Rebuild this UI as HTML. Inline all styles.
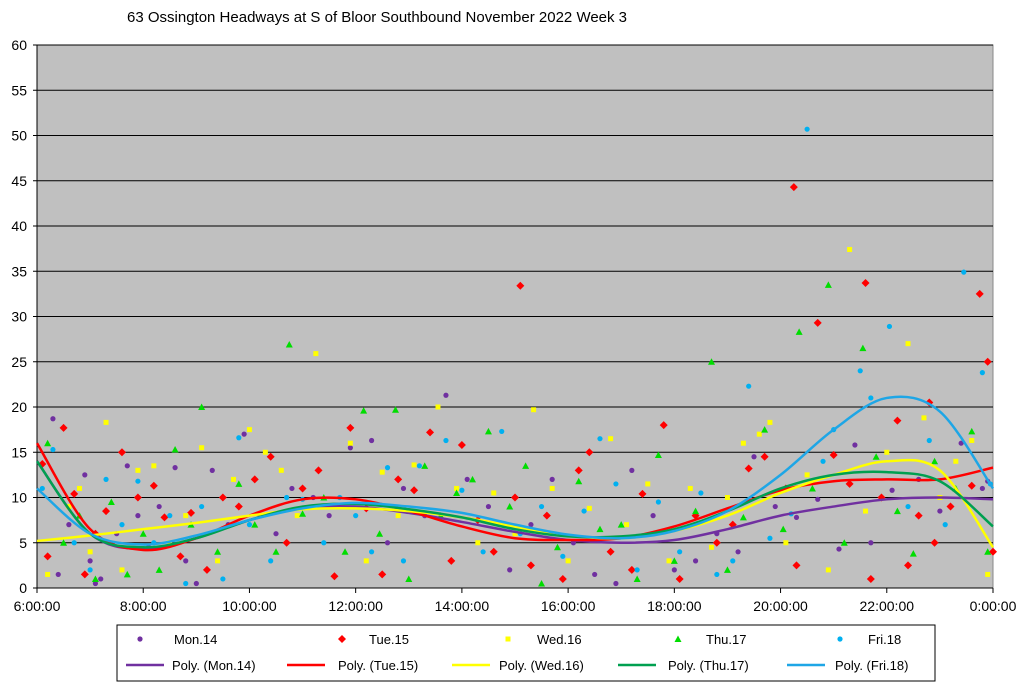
<!DOCTYPE html>
<html><head><meta charset="utf-8"><style>
body{margin:0;background:#fff;font-family:"Liberation Sans",sans-serif;}
svg text{font-family:"Liberation Sans",sans-serif;}
</style></head><body>
<svg id="chart" width="1024" height="688" xmlns="http://www.w3.org/2000/svg">
<rect width="1024" height="688" fill="#fff"/>
<text x="127" y="22" font-size="15">63 Ossington Headways at S of Bloor Southbound November 2022  Week 3</text>
<g id="plot"></g>
<g id="legend"></g>
</svg>
<script>
const yTicks=[0,5,10,15,20,25,30,35,40,45,50,55,60];
const xTickLabels=["6:00:00","8:00:00","10:00:00","12:00:00","14:00:00","16:00:00","18:00:00","20:00:00","22:00:00","0:00:00"];
const xTickHours=[6,8,10,12,14,16,18,20,22,24];
const seriesNames=["Mon.14","Tue.15","Wed.16","Thu.17","Fri.18"];
const monT=[6.3,6.4,6.6,6.9,7.0,7.1,7.2,7.5,7.7,7.9,8.1,8.3,8.6,8.8,9.0,9.3,9.6,9.9,10.2,10.5,10.8,11.2,11.5,11.9,12.3,12.6,12.9,13.3,13.7,14.1,14.5,14.9,15.3,15.7,16.1,16.5,16.9,17.2,17.6,18.0,18.4,18.8,19.2,19.5,19.9,20.3,20.7,21.1,21.4,21.7,22.1,22.6,23.0,23.4,23.8,23.9];
const monV=[18.7,1.5,7,12.5,3,0.5,1,6,13.5,8,4.5,9,13.3,3,0.5,13,7,17,8,6,11,10,8,15.5,16.3,5,11,8,21.3,12,9,2,7,12,5,1.5,0.5,13,8,2,3,6,4,14.5,9,7.8,9.8,4.3,15.8,5,10.8,12,8.5,16,11,11.8];
const tueT=[6.1,6.2,6.5,6.7,6.9,7.1,7.3,7.6,7.9,8.2,8.4,8.7,8.9,9.2,9.5,9.8,10.1,10.4,10.7,11.0,11.3,11.6,11.9,12.2,12.5,12.8,13.1,13.4,13.8,14.0,14.3,14.6,15.0,15.1,15.3,15.6,15.9,16.2,16.4,16.8,17.2,17.4,17.8,18.1,18.4,18.8,19.1,19.4,19.7,20.1,20.25,20.3,20.7,21.0,21.3,21.6,21.7,21.9,22.2,22.4,22.6,22.8,22.9,23.2,23.6,23.75,23.9,24.0];
const tueV=[13.7,3.5,17.7,10.4,1.5,6,8.5,15,10,11.3,7.8,3.5,8.3,2,10,9,12,14.5,5,11,13,1.3,17.7,8.8,1.5,12,10.8,17.2,3,15.8,7.5,4,10,33.4,2.5,8,1,13,15,4,2,10.4,18,1,8,5,7,13.2,14.5,11,44.3,2.5,29.3,14.7,11.5,33.7,1,10,18.5,2.5,8,20.5,5,9,11.3,32.5,25,4];
const wedT=[6.2,6.6,6.8,7.0,7.3,7.6,7.9,8.2,8.5,8.8,9.1,9.4,9.7,10.0,10.3,10.6,10.9,11.25,11.6,11.9,12.2,12.5,12.8,13.1,13.55,13.9,14.3,14.6,15.0,15.35,15.7,16.0,16.4,16.8,17.1,17.5,17.9,18.3,18.7,19.0,19.3,19.6,19.8,20.1,20.5,20.9,21.3,21.6,22.0,22.4,22.7,23.0,23.3,23.6,23.9];
const wedV=[1.5,9,11,4,18.3,2,13,13.5,5,8,15.5,3,12,17.5,15,13,8,25.9,9,16,3,12.8,8,13.6,20,11,5,10.5,6,19.7,11,3,8.8,16.5,7,11.5,3,11,4.5,10,16,17,18.3,5,12.5,2,37.4,8.5,15,27,18.8,10,14,16.3,1.5];
const thuT=[6.2,6.5,6.8,7.1,7.4,7.7,8.0,8.3,8.6,8.9,9.1,9.4,9.8,10.1,10.5,10.75,11.0,11.4,11.8,12.15,12.45,12.75,13.0,13.3,13.6,13.9,14.2,14.5,14.9,15.2,15.5,15.8,16.2,16.6,17.0,17.3,17.7,18.0,18.4,18.7,19.0,19.3,19.7,20.05,20.35,20.6,20.9,21.2,21.55,21.8,22.2,22.5,22.9,23.3,23.6,23.9];
const thuV=[16,5,8,1,9.5,1.5,6,2,15.3,7,20,4,11.5,7,4,26.9,8.2,10,4,19.6,6,19.7,1,13.5,8,10.5,12,17.3,9,13.5,0.5,4.5,11.8,6.5,7,1,14.7,3,8.5,25,2,7.8,17.5,6.5,28.3,11,33.5,5,26.5,14.5,8.5,3.8,14,11,17.3,4];
const friT=[6.1,6.3,6.7,7.0,7.3,7.6,7.9,8.2,8.5,8.8,9.1,9.5,9.8,10.0,10.4,10.7,11.0,11.4,11.7,12.0,12.3,12.6,12.9,13.2,13.7,14.0,14.4,14.75,15.1,15.5,15.9,16.3,16.6,16.9,17.3,17.7,18.1,18.5,18.8,19.1,19.4,19.8,20.2,20.5,20.8,21.0,21.5,21.7,22.05,22.4,22.8,23.1,23.45,23.8,23.95];
const friV=[11,15.3,5,2,12,7,11.8,5,8,0.5,9,1,16.6,7,3,10,9.8,5,10,8,4,13.3,3,13.5,16.3,10.8,4,17.3,6,9,3.5,8.5,16.5,11.5,2,9.5,4,10.5,1.5,3,22.3,5.5,8.2,50.7,14,17.5,24,21,28.9,9,16.3,7,34.9,23.8,11.5];
const trendHours=[6,7,8,9,10,11,12,13,14,15,16,17,18,19,20,21,22,23,24];
const monTrend=[14,6,4.3,5.5,7.5,8.8,9,8.3,7.3,6.2,5.3,5,5.3,6.5,8,9,9.8,10,9.8];
const tueTrend=[16,6.5,4.2,5.5,8,9.8,9.8,8.5,6.8,5.5,5.3,5.5,6.8,8.8,10.8,11.8,12,12,13.3];
const wedTrend=[5.2,5.8,6.5,7.2,8,8.7,8.8,8.5,7.8,6.8,5.8,5.5,6.3,8,10.5,12.5,14,13,4.5];
const thuTrend=[14,6,4.5,5.5,7.5,9,9.3,8.7,7.8,6.5,5.7,5.7,6.5,8.5,11,12.5,12.8,11.8,6.8];
const friTrend=[11,6,4.8,5.8,7.5,8.8,9.4,9,8.3,7,5.9,5.5,6.3,8.5,12.5,17.5,21,19.5,11];

const NS="http://www.w3.org/2000/svg";
const X0=37,X1=993,Y0=588,Y1=45;
const xs=h=>X0+(h-6)*(X1-X0)/18;
const ys=v=>Y0-v*(Y0-Y1)/60;
const plot=document.getElementById('plot');
function mk(tag,attrs,parent){const e=document.createElementNS(NS,tag);for(const k in attrs)e.setAttribute(k,attrs[k]);parent.appendChild(e);return e;}
const bg=mk('rect',{x:X0,y:Y1,width:X1-X0,height:Y0-Y1,fill:'#c0c0c0',stroke:'#888'},plot);


yTicks.forEach(v=>{
  const l=mk('line',{x1:X0-4,x2:X1,y1:ys(v),y2:ys(v),stroke:'#000','stroke-width':1},plot);
  
  
  const t=mk('text',{x:27,y:ys(v)+5,'font-size':14,'text-anchor':'end'},plot);
  t.textContent=v;
  
  
});
mk('line',{x1:X0,x2:X0,y1:Y1,y2:Y0,stroke:'#000'},plot);
xTickHours.forEach((h,i)=>{
  mk('line',{x1:xs(h),x2:xs(h),y1:Y0,y2:Y0+5,stroke:'#000'},plot);
  const t=mk('text',{x:xs(h),y:611,'font-size':14,'text-anchor':'middle'},plot);
  t.textContent=xTickLabels[i];
  
  
});
const markColors=['#7030a0','#ff0000','#ffff00','#00dd00','#00b0f0'];
const lineColors=['#7030a0','#ff0000','#ffff00','#00a050','#1ea6e6'];
const shapes=['circle','diamond','square','triangle','circle'];
function marker(shape,cx,cy,col,parent){
  if(shape==='circle')return mk('circle',{cx,cy,r:2.6,fill:col},parent);
  if(shape==='square')return mk('rect',{x:cx-2.5,y:cy-2.5,width:5,height:5,fill:col},parent);
  if(shape==='diamond')return mk('path',{d:`M${cx},${cy-4}L${cx+4},${cy}L${cx},${cy+4}L${cx-4},${cy}Z`,fill:col},parent);
  return mk('path',{d:`M${cx},${cy-3.5}L${cx+3.5},${cy+3}L${cx-3.5},${cy+3}Z`,fill:col},parent);
}
const scatT=[monT,tueT,wedT,thuT,friT],scatV=[monV,tueV,wedV,thuV,friV];
const trends=[monTrend,tueTrend,wedTrend,thuTrend,friTrend];
scatT.forEach((T,s)=>{
  T.forEach((h,i)=>{
    const m=marker(shapes[s],xs(h),ys(scatV[s][i]),markColors[s],plot);
    
    
  });
});
function smooth(pts){
  let d=`M${pts[0][0]},${pts[0][1]}`;
  for(let i=0;i<pts.length-1;i++){
    const p0=pts[i-1]||pts[i],p1=pts[i],p2=pts[i+1],p3=pts[i+2]||p2;
    const c1=[p1[0]+(p2[0]-p0[0])/6,p1[1]+(p2[1]-p0[1])/6];
    const c2=[p2[0]-(p3[0]-p1[0])/6,p2[1]-(p3[1]-p1[1])/6];
    d+=`C${c1[0]},${c1[1]} ${c2[0]},${c2[1]} ${p2[0]},${p2[1]}`;
  }
  return d;
}
trends.forEach((tr,s)=>{
  const pts=trendHours.map((h,i)=>[xs(h),ys(tr[i])]);
  const p=mk('path',{d:smooth(pts),fill:'none',stroke:lineColors[s],'stroke-width':2.5},plot);
  
  
});
const lg=document.getElementById('legend');
mk('rect',{x:117,y:625,width:818,height:56,fill:'#fff',stroke:'#000'},lg);
const mX=[140,342,508,678,840],tX=[174,369,537,706,868];
const lX=[126,287,452,618,787],ltX=[172,338,499,668,835];
seriesNames.forEach((n,s)=>{
  const m=marker(shapes[s],mX[s],639,markColors[s],lg);
  
  
  const t=mk('text',{x:tX[s],y:644,'font-size':13},lg);t.textContent=n;
  
  
  const l=mk('line',{x1:lX[s],x2:lX[s]+38,y1:665,y2:665,stroke:lineColors[s],'stroke-width':2.5},lg);
  
  
  const t2=mk('text',{x:ltX[s],y:670,'font-size':13},lg);t2.textContent='Poly. ('+n+')';
  
  
});
</script>
</body></html>
